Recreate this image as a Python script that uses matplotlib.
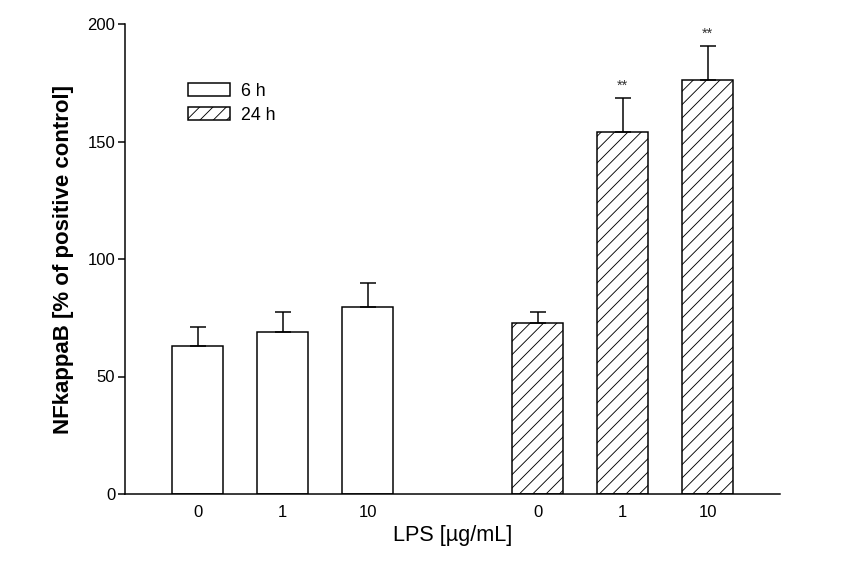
import numpy as np
import matplotlib
matplotlib.use('Agg')
import matplotlib.pyplot as plt

plt.rcParams['font.family'] = ['Liberation Sans', 'DejaVu Sans']
plt.rcParams['hatch.linewidth'] = 0.8

doses = ['0', '1', '10']
mean_6h = [62.8, 68.8, 79.4]
err_6h = [8.1, 8.5, 10.4]
mean_24h = [72.6, 153.9, 176.0]
err_24h = [5.0, 14.5, 14.6]
stars_24h = ['', '**', '**']

dpi = 80
fig = plt.figure(figsize=(843 / dpi, 562 / dpi), dpi=dpi)
ax = fig.add_axes([125 / 843, 68 / 562, 655 / 843, 470 / 562])

x6 = np.arange(3)
x24 = np.arange(3) + 4
w = 0.6
lw = 1.35

ax.bar(x6, mean_6h, w, color='white', edgecolor='black', linewidth=lw,
       yerr=[np.zeros(3), err_6h], capsize=7.6,
       error_kw=dict(elinewidth=lw, capthick=lw, ecolor='black'),
       label='6 h', zorder=2)
ax.bar(x24, mean_24h, w, color='white', edgecolor='black', linewidth=lw,
       hatch='//', yerr=[np.zeros(3), err_24h], capsize=7.6,
       error_kw=dict(elinewidth=lw, capthick=lw, ecolor='black'),
       label='24 h', zorder=2)

# significance marks above the error bars
for xi, m, e, s in zip(x24, mean_24h, err_24h, stars_24h):
    if s:
        ax.text(xi, m + e + 8.3, s, ha='center', va='top', fontsize=13,
                color='#333333')

ax.set_xlim(-0.856, 6.85)
ax.set_ylim(0, 200)
ax.set_xticks(list(x6) + list(x24))
ax.set_xticklabels(doses + doses)
ax.set_yticks([0, 50, 100, 150, 200])

ax.spines['top'].set_visible(False)
ax.spines['right'].set_visible(False)
ax.spines['left'].set_linewidth(lw)
ax.spines['bottom'].set_linewidth(lw)
ax.tick_params(axis='x', length=0, pad=10, labelsize=15)
ax.tick_params(axis='y', length=7 * 0.9, width=lw, pad=2.5, labelsize=15)

ax.set_xlabel('LPS [µg/mL]', fontsize=19.5, labelpad=4)
ax.set_ylabel('NFkappaB [% of positive control]', fontsize=20,
              fontweight='bold', labelpad=12)

ax.legend(loc='upper left', bbox_to_anchor=(0.085, 0.89), frameon=False,
          fontsize=16, handlelength=2.4, handleheight=0.75,
          handletextpad=0.6, labelspacing=0.4, borderaxespad=0)

fig.savefig('out.png', dpi=dpi)
